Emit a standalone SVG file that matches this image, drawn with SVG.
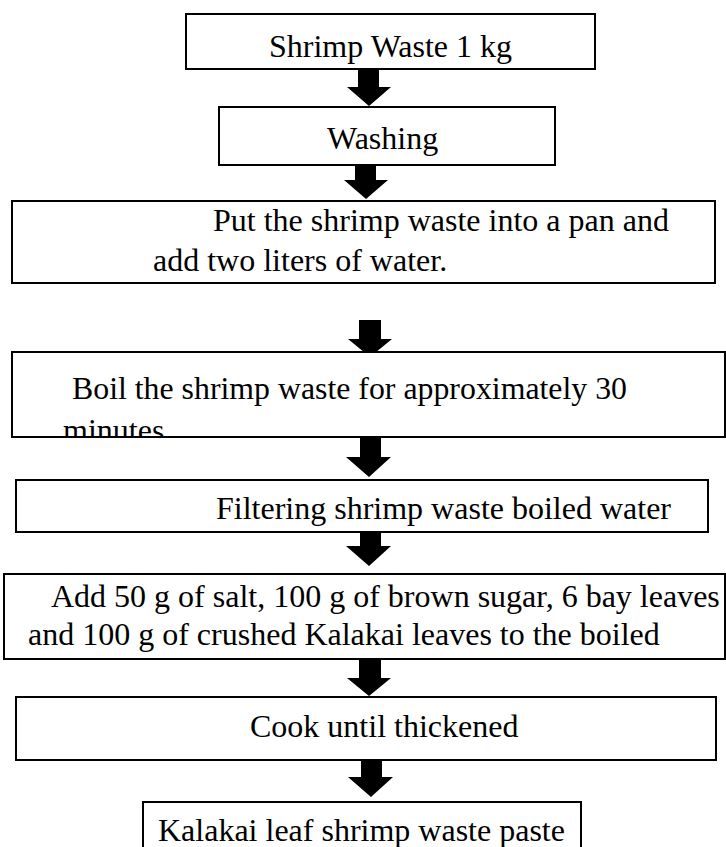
<svg xmlns="http://www.w3.org/2000/svg" width="726" height="847" viewBox="0 0 726 847">
<style>
.box{fill:#fff;stroke:#000;stroke-width:2}
.t{font-family:"Liberation Serif","Times New Roman",serif;font-size:32px;fill:#000}
.arr{fill:#000}
</style>
<defs>
<clipPath id="clip4"><rect x="0" y="352" width="726" height="85"/></clipPath>
</defs>
<g id="connectors">
<polygon class="arr" points="358,69 379,69 379,87 391,87 369,106 347,87 358,87"/>
<polygon class="arr" points="355,165 376,165 376,180 388,180 366,199 344,180 355,180"/>
<polygon class="arr" points="359,320 381,320 381,339 392,339 370,357 348,339 359,339"/>
<polygon class="arr" points="360,437 381,437 381,457 391,457 369,477 346,457 360,457"/>
<polygon class="arr" points="360,531 381,531 381,546 391,546 369,566 346,546 360,546"/>
<polygon class="arr" points="359,659 381,659 381,678 391,678 369,696 347,678 359,678"/>
<polygon class="arr" points="361,760 382,760 382,777 393,777 371,797 348,777 361,777"/>
</g>
<g id="n1">
<rect class="box" x="186" y="14" width="409" height="55"/>
<text class="t" x="269" y="57">Shrimp Waste 1 kg</text>
</g>
<g id="n2">
<rect class="box" x="219" y="107" width="336" height="58"/>
<text class="t" x="327" y="149">Washing</text>
</g>
<g id="n3">
<rect class="box" x="12" y="201" width="703" height="82"/>
<text class="t" x="213" y="231">Put the shrimp waste into a pan and</text>
<text class="t" x="153" y="271">add two liters of water.</text>
</g>
<g id="n4">
<rect class="box" x="12" y="352" width="713" height="85"/>
<text class="t" x="72" y="399" textLength="555" lengthAdjust="spacingAndGlyphs">Boil the shrimp waste for approximately 30</text>
<text class="t" x="63" y="441" clip-path="url(#clip4)">minutes</text>
</g>
<g id="n5">
<rect class="box" x="16" y="480" width="692" height="52"/>
<text class="t" x="216" y="519">Filtering shrimp waste boiled water</text>
</g>
<g id="n6">
<rect class="box" x="4" y="574" width="721" height="85"/>
<text class="t" x="51" y="607">Add 50 g of salt, 100 g of brown sugar, 6 bay leaves</text>
<text class="t" x="28" y="645">and 100 g of crushed Kalakai leaves to the boiled</text>
</g>
<g id="n7">
<rect class="box" x="16" y="697" width="700" height="63"/>
<text class="t" x="250" y="737">Cook until thickened</text>
</g>
<g id="n8">
<rect class="box" x="143" y="802" width="438" height="70"/>
<text class="t" x="158" y="841">Kalakai leaf shrimp waste paste</text>
</g>
</svg>
